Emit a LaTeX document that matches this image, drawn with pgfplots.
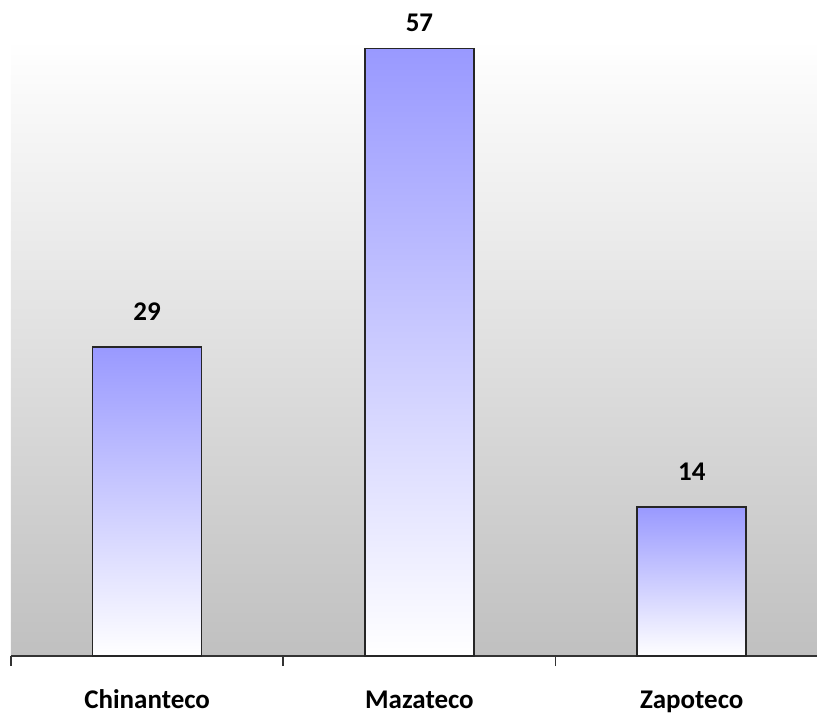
\documentclass[border=0pt]{standalone}
\usepackage{pgfplots}
\pgfplotsset{compat=1.18}
\usepackage{fontspec}
\setmainfont{Carlito}
\definecolor{barblue}{HTML}{9999FF}
\definecolor{bggray}{HTML}{C0C0C0}
\begin{document}
\begin{tikzpicture}
\begin{axis}[
  scale only axis,
  width=403.5pt, height=308.5pt,
  xmin=-0.5, xmax=2.46,
  ymin=0, ymax=57.8,
  axis x line*=bottom,
  hide y axis,
  /pgf/number format/assume math mode=true,
  axis line style={black!80, line width=0.8pt},
  axis background/.style={shade, top color=white, bottom color=bggray},
  xtick={0,1,2},
  xticklabels={Chinanteco,Mazateco,Zapoteco},
  major tick length=0pt,
  extra x ticks={-0.5,0.5,1.5},
  extra x tick labels={},
  extra x tick style={major tick length=5pt, tick style={black!80, line width=0.8pt}, tick align=outside},
  xticklabel style={font=\fontsize{13.5}{16}\selectfont\bfseries, text height=9.5pt, text depth=2.5pt, yshift=-13pt},
  ybar, bar width=0.4, bar shift=0pt,
  nodes near coords,
  nodes near coords style={font=\fontsize{13.5}{16}\selectfont\bfseries, yshift=9.5pt},
  clip=false,
]
\addplot[draw=black!85, line width=0.8pt, top color=barblue, bottom color=white]
  coordinates {(0,29)};
\addplot[draw=black!85, line width=0.8pt, top color=barblue, bottom color=white,
  nodes near coords style={yshift=-5pt}]
  coordinates {(1,57)};
\addplot[draw=black!85, line width=0.8pt, top color=barblue, bottom color=white]
  coordinates {(2,14)};
\end{axis}
\pgfresetboundingbox
\path ([shift={(-5.5pt,-28.5pt)}]current axis.south west) rectangle ([shift={(0pt,20pt)}]current axis.north east);
\end{tikzpicture}
\end{document}
